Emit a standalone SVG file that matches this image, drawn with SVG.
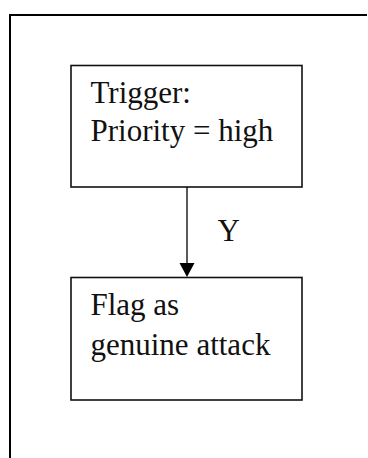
<svg xmlns="http://www.w3.org/2000/svg" width="368" height="458" viewBox="0 0 368 458">
  <style>
    .frame { fill: none; stroke: #000; stroke-width: 2; }
    .box { fill: #fff; stroke: #111; stroke-width: 1.6; }
    .label { font-family: "Liberation Serif", "Times New Roman", serif; font-size: 31px; fill: #111; }
    .edge { stroke: #000; stroke-width: 1.3; fill: none; }
    .head { fill: #000; }
  </style>

  <!-- outer page frame (top and left edges) -->
  <path class="frame" d="M10,458 V15 H367"/>

  <g id="node-trigger">
    <rect class="box" x="71" y="65.5" width="231" height="121.5"/>
    <text class="label" x="90.5" y="103">Trigger:</text>
    <text class="label" x="90.5" y="140.5">Priority = high</text>
  </g>

  <g id="node-flag">
    <rect class="box" x="71" y="277.5" width="231" height="122.5"/>
    <text class="label" x="90.5" y="315">Flag as</text>
    <text class="label" x="90.5" y="355">genuine attack</text>
  </g>

  <g id="connectors">
    <line class="edge" x1="187" y1="187" x2="187" y2="263"/>
    <path class="head" d="M179.5,263 L194.5,263 L187,277 Z"/>
    <text class="label" x="217.5" y="241">Y</text>
  </g>
</svg>
